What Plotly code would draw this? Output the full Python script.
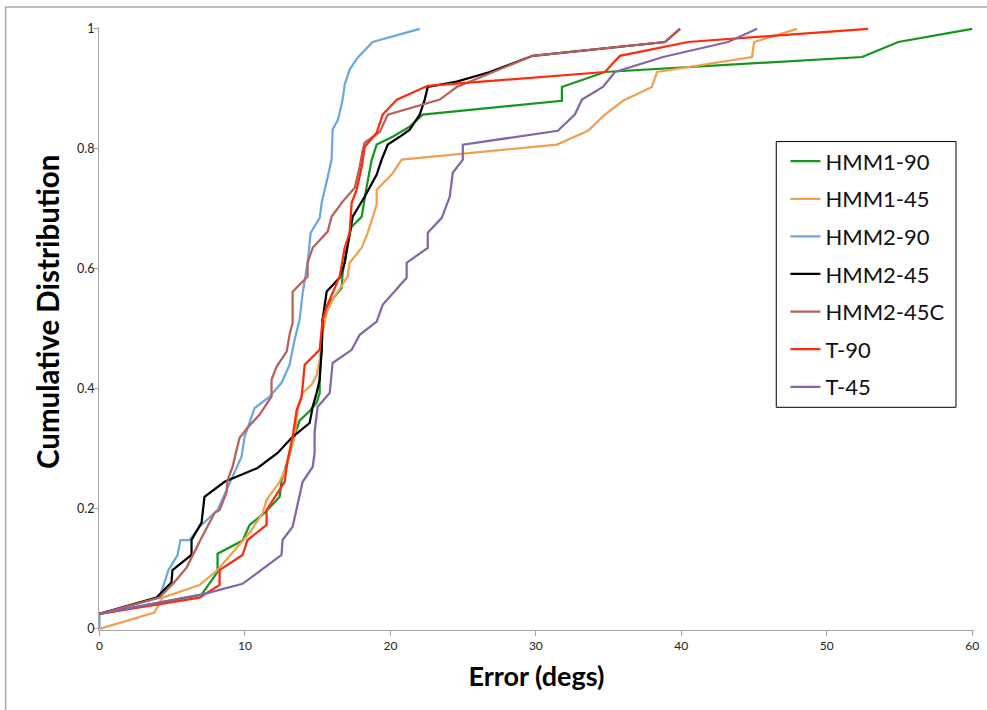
import plotly.graph_objects as go

# ---- data ----
series_names = ["HMM1-90", "HMM1-45", "HMM2-90", "HMM2-45", "HMM2-45C", "T-90", "T-45"]
series_colors = ["#14961e", "#f0a050", "#6aa8e4", "#000000", "#b8605a", "#ff2a0a", "#8466a8"]

hmm1_90_x = [0, 7.02, 8.12, 8.12, 9.84, 10.32, 11.35, 12.39, 12.52, 13.07, 13.42, 13.76, 14.45, 14.93,
             15.14, 15.14, 15.28, 15.34, 15.62, 16.65, 16.72, 17.20, 17.34, 18.03, 18.37, 18.72, 19.06,
             20.16, 21.33, 22.22, 31.79, 31.79, 34.75, 52.43, 54.91, 60.0]
hmm1_90_y = [0.025, 0.057, 0.095, 0.125, 0.147, 0.173, 0.193, 0.220, 0.248, 0.290, 0.323, 0.347, 0.363, 0.377,
             0.393, 0.437, 0.465, 0.515, 0.537, 0.568, 0.593, 0.660, 0.670, 0.687, 0.737, 0.782, 0.807,
             0.820, 0.837, 0.857, 0.880, 0.903, 0.928, 0.953, 0.978, 1.0]

hmm1_45_x = [0, 3.78, 4.33, 6.88, 8.12, 10.32, 11.22, 11.49, 12.39, 12.87, 13.07, 13.42, 13.62, 13.97,
             14.59, 14.93, 15.14, 15.34, 15.62, 16.03, 17.06, 17.20, 18.03, 18.44, 19.06, 19.06, 20.09,
             20.78, 31.45, 33.58, 34.75, 35.99, 37.98, 38.33, 44.86, 45.00, 47.96]
hmm1_45_y = [0.0, 0.027, 0.052, 0.073, 0.098, 0.160, 0.193, 0.215, 0.245, 0.270, 0.293, 0.320, 0.365, 0.393,
             0.407, 0.423, 0.448, 0.493, 0.527, 0.548, 0.587, 0.610, 0.635, 0.660, 0.707, 0.732, 0.757,
             0.782, 0.807, 0.830, 0.857, 0.880, 0.903, 0.928, 0.953, 0.978, 1.0]

hmm2_90_x = [0, 0, 4.13, 4.47, 4.75, 5.37, 5.57, 6.19, 6.88, 8.12, 8.74, 9.29, 9.77, 9.98, 10.67, 11.70,
             12.52, 13.07, 13.42, 13.76, 13.97, 14.31, 14.52, 15.14, 15.28, 15.69, 15.96, 16.03, 16.38,
             16.51, 16.72, 16.86, 17.20, 17.75, 18.78, 22.02]
hmm2_90_y = [0.0, 0.025, 0.052, 0.077, 0.098, 0.123, 0.148, 0.148, 0.170, 0.198, 0.232, 0.260, 0.287, 0.320,
             0.368, 0.387, 0.410, 0.440, 0.482, 0.515, 0.560, 0.610, 0.660, 0.685, 0.710, 0.753, 0.782,
             0.832, 0.848, 0.860, 0.882, 0.907, 0.932, 0.952, 0.978, 1.0]

hmm2_45_x = [0, 3.92, 4.95, 5.02, 6.33, 6.33, 7.02, 7.22, 8.60, 10.87, 12.25, 13.28, 14.45, 14.66, 14.93,
             15.14, 15.28, 15.34, 15.62, 16.51, 16.86, 17.20, 17.41, 18.23, 19.06, 19.40, 19.82, 20.64,
             21.33, 22.02, 22.36, 22.57, 24.56, 26.84, 29.79, 38.88, 39.91]
hmm2_45_y = [0.025, 0.052, 0.077, 0.098, 0.123, 0.148, 0.177, 0.220, 0.245, 0.268, 0.293, 0.320, 0.343, 0.370,
             0.393, 0.415, 0.465, 0.515, 0.562, 0.585, 0.610, 0.660, 0.687, 0.720, 0.757, 0.782, 0.807,
             0.820, 0.832, 0.857, 0.882, 0.903, 0.912, 0.928, 0.955, 0.978, 1.0]

hmm2_45c_x = [0, 4.13, 5.16, 5.99, 6.88, 7.91, 8.26, 8.74, 8.81, 9.15, 9.63, 10.18, 11.01, 11.42, 11.83,
              11.83, 12.18, 12.87, 13.07, 13.28, 13.28, 14.31, 14.31, 14.66, 15.69, 15.96, 16.72, 17.55,
              17.89, 18.10, 18.23, 19.27, 19.82, 23.40, 24.56, 29.79, 38.88, 39.91]
hmm2_45c_y = [0.025, 0.052, 0.078, 0.102, 0.145, 0.193, 0.198, 0.227, 0.248, 0.270, 0.318, 0.335, 0.357, 0.372,
              0.387, 0.415, 0.437, 0.462, 0.490, 0.510, 0.562, 0.587, 0.610, 0.635, 0.662, 0.687, 0.712,
              0.735, 0.770, 0.798, 0.810, 0.828, 0.857, 0.882, 0.903, 0.955, 0.978, 1.0]

t_90_x = [0, 6.88, 8.26, 8.26, 9.84, 10.18, 11.49, 11.49, 12.73, 12.94, 13.28, 13.56, 13.90, 14.11, 15.14,
          15.34, 15.62, 16.51, 16.86, 17.20, 17.34, 17.68, 18.03, 18.23, 19.06, 19.47, 20.44, 22.57,
          34.75, 35.78, 40.46, 52.84]
t_90_y = [0.025, 0.052, 0.073, 0.098, 0.123, 0.148, 0.173, 0.198, 0.245, 0.282, 0.320, 0.365, 0.387, 0.440,
          0.465, 0.515, 0.537, 0.587, 0.635, 0.660, 0.710, 0.732, 0.770, 0.803, 0.827, 0.857, 0.882, 0.905,
          0.928, 0.955, 0.978, 1.0]

t_45_x = [0, 7.02, 9.84, 12.52, 12.59, 13.28, 13.97, 14.66, 14.79, 14.79, 15.00, 15.83, 16.03, 17.34, 17.89,
          19.06, 19.47, 21.12, 21.12, 22.57, 22.57, 23.53, 24.08, 24.29, 24.98, 24.98, 31.51, 32.68,
          33.17, 34.61, 35.44, 38.74, 43.21, 45.21]
t_45_y = [0.025, 0.057, 0.075, 0.123, 0.148, 0.170, 0.245, 0.270, 0.293, 0.327, 0.370, 0.393, 0.443, 0.465,
          0.490, 0.512, 0.540, 0.585, 0.610, 0.635, 0.660, 0.685, 0.720, 0.760, 0.782, 0.807, 0.830, 0.857,
          0.882, 0.903, 0.928, 0.953, 0.978, 1.0]

series_x = [hmm1_90_x, hmm1_45_x, hmm2_90_x, hmm2_45_x, hmm2_45c_x, t_90_x, t_45_x]
series_y = [hmm1_90_y, hmm1_45_y, hmm2_90_y, hmm2_45_y, hmm2_45c_y, t_90_y, t_45_y]

y_tick_vals = [0, 0.2, 0.4, 0.6, 0.8, 1.0]
y_tick_text = ["0", "0.2", "0.4", "0.6", "0.8", "1"]
x_tick_vals = [0, 10, 20, 30, 40, 50, 60]

x_title = "Error (degs)"
y_title = "Cumulative Distribution"

FONT = "Lato, 'Open Sans', sans-serif"
AXIS_GRAY = "#a6a6a6"

fig = go.Figure()
for name, color, xs, ys in zip(series_names, series_colors, series_x, series_y):
    fig.add_trace(go.Scatter(
        x=xs, y=ys, mode="lines", name=name, legendgroup=name,
        line=dict(color=color, width=2.25),
    ))

fig.update_layout(
    width=987, height=710,
    margin=dict(l=99, r=8, t=27, b=80),
    paper_bgcolor="white", plot_bgcolor="white",
    font=dict(family=FONT, color="#222222"),
    showlegend=True,
    legend=dict(
        x=0.7845, y=0.812, xanchor="left", yanchor="top",
        borderwidth=0, bgcolor="rgba(0,0,0,0)",
        font=dict(family=FONT, size=22, color="#111111"),
        tracegroupgap=6, itemwidth=30,
    ),
    xaxis=dict(
        range=[-0.03, 60.12], tickvals=x_tick_vals, showgrid=False, zeroline=False,
        showline=True, linecolor=AXIS_GRAY, linewidth=1,
        ticks="outside", ticklen=5, tickcolor=AXIS_GRAY,
        tickfont=dict(family=FONT, size=12, color="#222222"),
        title=dict(text="<b>" + x_title + "</b>", font=dict(family=FONT, size=27, color="#000000"), standoff=14),
        layer="below traces",
    ),
    yaxis=dict(
        range=[-0.002, 1.003], tickvals=y_tick_vals, ticktext=y_tick_text, showgrid=False, zeroline=False,
        showline=True, linecolor=AXIS_GRAY, linewidth=1,
        ticks="outside", ticklen=5, tickcolor=AXIS_GRAY,
        tickfont=dict(family=FONT, size=12.5, color="#222222"),
        ticklabelstandoff=-4,
        layer="below traces",
    ),
    annotations=[dict(
        text="<b>" + y_title + "</b>", textangle=-90, showarrow=False,
        xref="paper", yref="paper", x=-0.0596, y=0.527, xanchor="center", yanchor="middle",
        font=dict(family=FONT, size=29.5, color="#000000"),
    )],
    shapes=[
        dict(type="rect", xref="paper", yref="paper",
             x0=-0.1067, x1=1.05, y0=-0.2, y1=1.0333,
             line=dict(color="#aaaaaa", width=1.5), fillcolor="rgba(0,0,0,0)", layer="below"),
        dict(type="rect", xref="paper", yref="paper",
             x0=0.774, x1=0.9794, y0=0.3693, y1=0.81,
             line=dict(color="#000000", width=1), fillcolor="rgba(0,0,0,0)", layer="above"),
    ],
)

fig.write_html("out.html")
